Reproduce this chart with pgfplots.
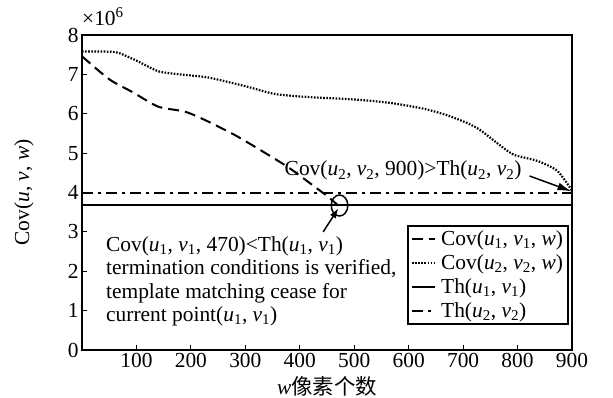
\documentclass[border=0pt]{standalone}
\usepackage{pgfplots}
\pgfplotsset{compat=1.18}
\usepackage{fontspec}
\setmainfont{Liberation Serif}
\newfontfamily\cjk{Noto Sans CJK SC}
\usetikzlibrary{arrows.meta}
\newcommand{\s}[1]{\textsubscript{#1}}
\newcommand{\vi}[1]{\textit{#1}}
\newcommand{\fs}{\fontsize{21.5}{23.5}\selectfont}
\begin{document}
\begin{tikzpicture}
\path[use as bounding box] (-82bp,-48bp) rectangle (531bp,350bp);
\begin{axis}[
  at={(0,0)}, anchor=south west,
  width=490bp, height=315bp, scale only axis,
  xmin=0, xmax=900, ymin=0, ymax=8,
  xtick={100,200,...,900}, ytick={0,1,...,8},
  xtick pos=bottom, ytick pos=left, tick align=inside,
  major tick length=5bp,
  axis line style={line width=1.6bp},
  every tick/.style={black, line width=1.2bp},
  tick label style={font=\fs},
  /pgf/number format/assume math mode=true,
  every axis x label/.style={at={(rel axis cs:0.5,0)}, anchor=center, yshift=-36bp, font=\fs},
  every axis y label/.style={at={(rel axis cs:0,0.5)}, rotate=90, anchor=center, yshift=58bp, font=\fs},
  xlabel={\vi{w}{\cjk 像素个数}},
  ylabel={Cov(\vi{u}, \vi{v}, \vi{w})},
  clip=false,
  legend style={at={(rel axis cs:0.994,0.397)}, anchor=north east, draw=black, line width=2bp,
    font=\fs, row sep=3.5bp, column sep=3bp, inner sep=3bp, cells={anchor=west}},
  legend cell align=left,
  legend image code/.code={\draw[#1] (0bp,0bp) -- (23bp,0bp);},
]
\addplot[black, line width=2bp, dash pattern=on 11bp off 6bp, smooth, tension=0.4] coordinates {
(0,7.46) (30,7.1) (55,6.83) (94,6.54) (140,6.18) (190,6.05) (232,5.8) (282,5.45) (331,5.05) (380,4.63) (429,4.13) (453,3.88) (473,3.64)};
\addlegendentry{Cov(\vi{u}\s{1}, \vi{v}\s{1}, \vi{w})}
\addplot[black, line width=2.2bp, dash pattern=on 1.6bp off 1.5bp, smooth, tension=0.4] coordinates {
(0,7.58) (40,7.58) (66,7.55) (100,7.35) (140,7.08) (180,7.0) (232,6.92) (300,6.7) (355,6.5) (420,6.42) (479,6.38) (530,6.33) (579,6.25) (630,6.12) (671,5.96) (710,5.75) (732,5.58) (763,5.25) (793,4.96) (837,4.8) (873,4.55) (900,4.05)};
\addlegendentry{Cov(\vi{u}\s{2}, \vi{v}\s{2}, \vi{w})}
\addplot[black, line width=2bp] coordinates {(0,3.67) (900,3.67)};
\addlegendentry{Th(\vi{u}\s{1}, \vi{v}\s{1})}
\addplot[black, line width=2bp, dash pattern=on 11bp off 5bp on 3bp off 5bp] coordinates {(0,4.0) (900,4.0)};
\addlegendentry{Th(\vi{u}\s{2}, \vi{v}\s{2})}
\draw[line width=1.5bp] (axis cs:473,3.67) ellipse [x radius=8.3bp, y radius=10.5bp];
\draw[line width=1.5bp, -{Latex[length=10bp,width=7bp]}] (axis cs:443,3.0) -- (axis cs:471,3.6);
\draw[line width=1.5bp, -{Latex[length=14bp,width=8bp]}] (axis cs:822,4.42) -- (axis cs:899,4.03);
\node[anchor=west, inner sep=0, font=\fs] at (axis cs:372,4.55) {Cov(\vi{u}\s{2}, \vi{v}\s{2}, 900)>Th(\vi{u}\s{2}, \vi{v}\s{2})};
\node[anchor=north west, align=left, inner sep=0, font=\fs] at (axis cs:44,2.89) {Cov(\vi{u}\s{1}, \vi{v}\s{1}, 470)<Th(\vi{u}\s{1}, \vi{v}\s{1})\\termination conditions is verified,\\template matching cease for\\current point(\vi{u}\s{1}, \vi{v}\s{1})};
\node[anchor=base west, inner sep=0, font=\fs] at (rel axis cs:0,1) [yshift=10bp] {×10\textsuperscript{6}};
\end{axis}
\end{tikzpicture}
\end{document}
